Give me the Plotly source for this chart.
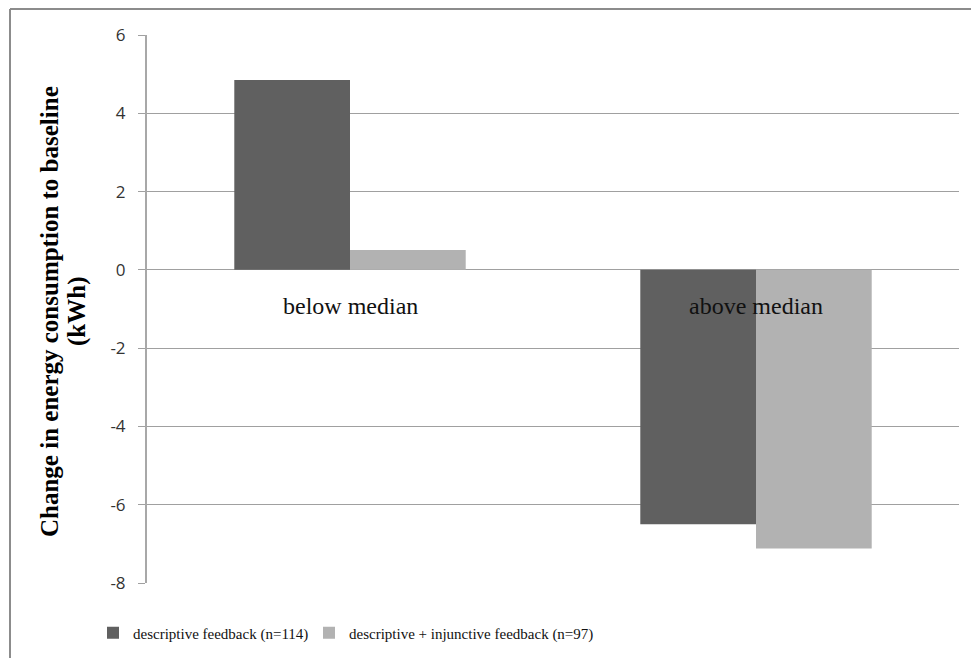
import plotly.graph_objects as go

categories = ["below median", "above median"]
series_names = ["descriptive feedback (n=114)", "descriptive + injunctive feedback (n=97)"]
descriptive = [4.85, -6.5]
descriptive_injunctive = [0.51, -7.12]
y_ticks = [-8, -6, -4, -2, 0, 2, 4, 6]
y_tick_labels = [str(v) for v in y_ticks]
y_title_lines = ["Change in energy consumption to baseline", "(kWh)"]

W, H = 971, 658
ML, MR, MT, MB = 147, 12, 35, 75
PW, PH = W - ML - MR, H - MT - MB

def px_x(px):
    return (px - ML) / PW

def px_y(py):
    return (H - MB - py) / PH

fig = go.Figure()
fig.add_trace(go.Bar(x=categories, y=descriptive, name=series_names[0], legend="legend",
                     marker=dict(color="#606060", line=dict(width=0))))
fig.add_trace(go.Bar(x=categories, y=descriptive_injunctive, name=series_names[1], legend="legend2",
                     marker=dict(color="#b2b2b2", line=dict(width=0))))

for c in categories:
    fig.add_annotation(x=c, y=0, xref="x", yref="y", text=c, showarrow=False,
                       yanchor="middle", yshift=-36,
                       font=dict(family="Liberation Serif", size=24, color="#111111"))

for line_text, cx in zip(y_title_lines, [49, 77]):
    fig.add_annotation(x=px_x(cx), y=px_y(312), xref="paper", yref="paper",
                       text="<b>" + line_text + "</b>", textangle=-90, showarrow=False,
                       xanchor="center", yanchor="middle",
                       font=dict(family="Liberation Serif", size=25, color="#000000"))

# outer chart border (left and top visible)
fig.add_shape(type="line", xref="paper", yref="paper",
              x0=px_x(10), x1=px_x(975), y0=px_y(9), y1=px_y(9),
              line=dict(color="#8c8c8c", width=2))
fig.add_shape(type="line", xref="paper", yref="paper",
              x0=px_x(10), x1=px_x(10), y0=px_y(9), y1=px_y(662),
              line=dict(color="#8c8c8c", width=2))

legend_style = dict(orientation="h", y=px_y(633), xanchor="left", yanchor="middle",
                    font=dict(family="Liberation Serif", size=15, color="#111111"),
                    bgcolor="rgba(0,0,0,0)")

fig.update_layout(
    width=W, height=H,
    margin=dict(l=ML, r=MR, t=MT, b=MB, autoexpand=False),
    paper_bgcolor="white", plot_bgcolor="white",
    barmode="group", bargap=0.43, bargroupgap=0,
    showlegend=True,
    legend=dict(x=px_x(93), **legend_style),
    legend2=dict(x=px_x(309), **legend_style),
    xaxis=dict(showticklabels=False, ticks="", showgrid=False, showline=False, zeroline=False,
               range=[-0.5, 1.5]),
    yaxis=dict(range=[-8, 6], tickvals=y_ticks, ticktext=y_tick_labels,
               showgrid=True, gridcolor="#a0a0a0", gridwidth=1,
               zeroline=True, zerolinecolor="#a0a0a0", zerolinewidth=1,
               showline=True, linecolor="#a8a8a8", linewidth=2,
               ticks="outside", ticklen=7, tickcolor="#a0a0a0", tickwidth=1,
               ticklabelstandoff=9,
               tickfont=dict(family="Open Sans", size=17, color="#333333")),
)

fig.write_html("out.html", config={"displayModeBar": False},
               post_script="document.body.style.margin='0';")
